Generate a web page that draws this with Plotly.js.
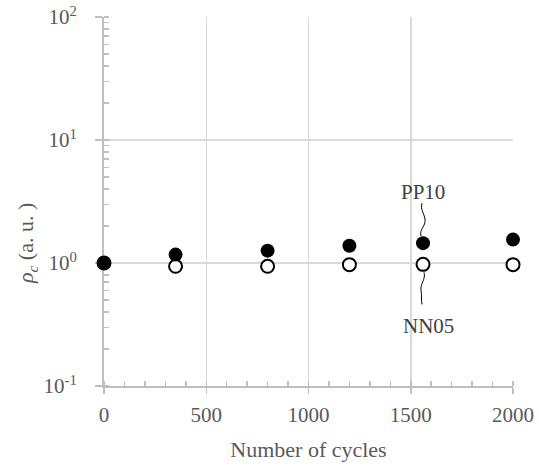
<!DOCTYPE html>
<html>
<head>
<meta charset="utf-8">
<script src="https://cdn.plot.ly/plotly-3.0.1.min.js"></script>
<style>html,body{margin:0;padding:0;background:#fff;}#chart{width:539px;height:469px;}</style>
</head>
<body>
<div id="chart"></div>
<script>
// Data
var cycles = [0, 350, 800, 1200, 1560, 2000];
var pp10 = [1.0, 1.17, 1.26, 1.38, 1.45, 1.55];
var nn05 = [1.0, 0.94, 0.94, 0.97, 0.975, 0.97];
var yTickVals = [0.1, 1, 10, 100];
var yTickText = ['10<sup>-1</sup>', '10<sup>0</sup>', '10<sup>1</sup>', '10<sup>2</sup>'];
var xTickVals = [0, 500, 1000, 1500, 2000];
var yTitle = '<i>ρ<sub>c</sub></i> (a. u. )';
var xTitle = 'Number of cycles';
var labelIndex = 4;

var font = 'Liberation Serif';
var axisGray = '#bfbfbf';
var gridGray = '#d9d9d9';

var traces = [
  {
    x: cycles, y: nn05, type: 'scatter', mode: 'markers', name: 'NN05',
    marker: {symbol: 'circle', size: 13, color: '#ffffff', line: {color: '#000000', width: 2}},
    cliponaxis: false
  },
  {
    x: cycles, y: pp10, type: 'scatter', mode: 'markers', name: 'PP10',
    marker: {symbol: 'circle', size: 14, color: '#000000', line: {color: '#000000', width: 0}},
    cliponaxis: false
  }
];

var layout = {
  width: 539, height: 469,
  margin: {l: 104, r: 26, t: 17, b: 83},
  paper_bgcolor: '#ffffff', plot_bgcolor: '#ffffff',
  showlegend: false,
  font: {family: font, color: '#595959', size: 21},
  xaxis: {
    range: [0, 2000],
    tickvals: xTickVals,
    ticks: 'outside', ticklen: 6, tickcolor: axisGray, tickwidth: 1.5,
    showline: true, linecolor: axisGray, linewidth: 2,
    showgrid: true, gridcolor: gridGray, gridwidth: 1.5,
    zeroline: false, layer: 'below traces',
    minor: {dtick: 100, ticks: 'inside', ticklen: 5, tickcolor: axisGray, tickwidth: 1.5, showgrid: false},
    tickfont: {family: font, size: 21, color: '#595959'},
    ticklabelstandoff: 3,
    title: {text: xTitle, font: {family: font, size: 22, color: '#595959'}, standoff: 15}
  },
  yaxis: {
    type: 'log',
    range: [-1, 2],
    tickvals: yTickVals, ticktext: yTickText,
    ticks: 'outside', ticklen: 7, tickcolor: axisGray, tickwidth: 1.5,
    showline: true, linecolor: axisGray, linewidth: 2,
    showgrid: true, gridcolor: gridGray, gridwidth: 1.5,
    zeroline: false, layer: 'below traces',
    minor: {dtick: 'D1', ticks: 'inside', ticklen: 5, tickcolor: axisGray, tickwidth: 1.5, showgrid: false},
    tickfont: {family: font, size: 21, color: '#595959'},
    ticklabelstandoff: 14
  },
  annotations: [
    {x: -0.188, y: 0.385, xref: 'paper', yref: 'paper', textangle: -90,
     xanchor: 'center', yanchor: 'middle',
     text: yTitle, showarrow: false,
     font: {family: font, size: 22, color: '#595959'}},
    {x: cycles[labelIndex], y: Math.log10(pp10[labelIndex]), xref: 'x', yref: 'y',
     text: 'PP10', showarrow: false, yshift: 51, xshift: 0,
     font: {family: font, size: 21, color: '#404040'}},
    {x: cycles[labelIndex], y: Math.log10(nn05[labelIndex]), xref: 'x', yref: 'y',
     text: 'NN05', showarrow: false, yshift: -62, xshift: 5,
     font: {family: font, size: 21, color: '#404040'}}
  ],
  shapes: [
    {type: 'path', xref: 'x', yref: 'y', xsizemode: 'pixel', ysizemode: 'pixel',
     xanchor: cycles[labelIndex], yanchor: pp10[labelIndex],
     path: 'M -2,7 C -4,14 3,17 2,24 C 1,30 -3,34 -1,40',
     line: {color: '#000000', width: 1}},
    {type: 'path', xref: 'x', yref: 'y', xsizemode: 'pixel', ysizemode: 'pixel',
     xanchor: cycles[labelIndex], yanchor: nn05[labelIndex],
     path: 'M 1,-8 C 3,-15 -3,-19 -2,-26 C -1,-32 -2,-36 -1,-40',
     line: {color: '#000000', width: 1}}
  ]
};

Plotly.newPlot('chart', traces, layout, {displayModeBar: false, staticPlot: true});
</script>
</body>
</html>
